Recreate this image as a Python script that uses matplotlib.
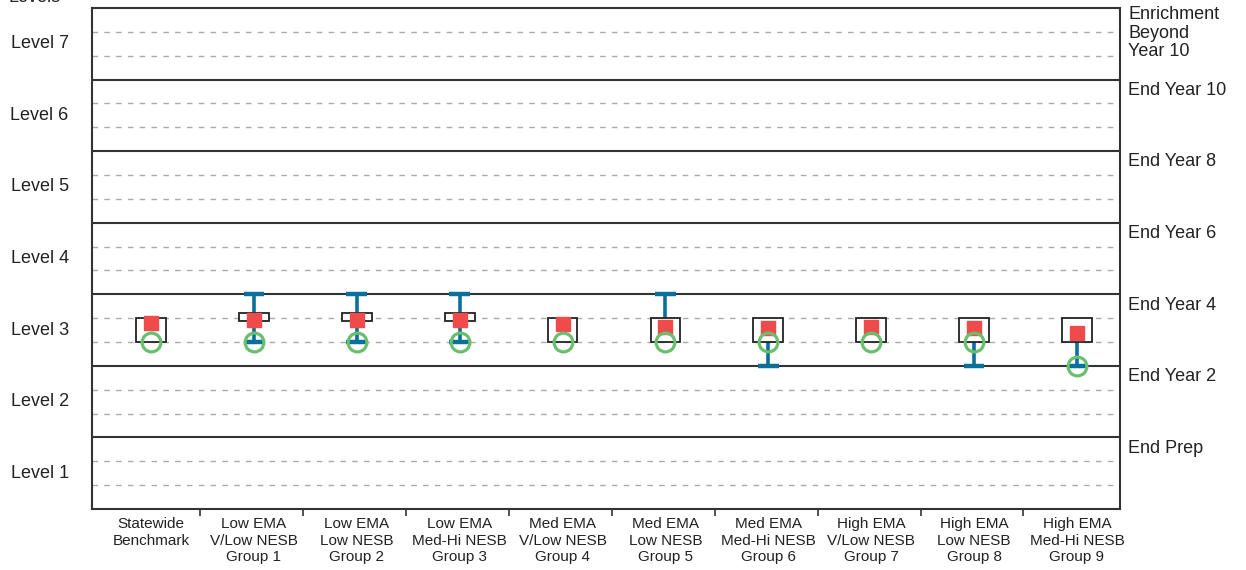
import numpy as np
import matplotlib.pyplot as plt

plt.rcParams['font.family'] = ['Liberation Sans', 'DejaVu Sans']

# categories (bottom axis)
groups = [
    "Statewide\nBenchmark",
    "Low EMA\nV/Low NESB\nGroup 1",
    "Low EMA\nLow NESB\nGroup 2",
    "Low EMA\nMed-Hi NESB\nGroup 3",
    "Med EMA\nV/Low NESB\nGroup 4",
    "Med EMA\nLow NESB\nGroup 5",
    "Med EMA\nMed-Hi NESB\nGroup 6",
    "High EMA\nV/Low NESB\nGroup 7",
    "High EMA\nLow NESB\nGroup 8",
    "High EMA\nMed-Hi NESB\nGroup 9",
]

# values in level units (Level 1 spans 0-1, Level 2 spans 1-2, ...)
box_low = [2.333, 2.623, 2.623, 2.623, 2.333, 2.333, 2.333, 2.333, 2.333, 2.333]
box_high = [2.667, 2.735, 2.735, 2.735, 2.667, 2.667, 2.667, 2.667, 2.667, 2.667]
means = [2.595, 2.637, 2.637, 2.637, 2.588, 2.546, 2.532, 2.546, 2.532, 2.463]
medians = [2.333, 2.333, 2.333, 2.333, 2.333, 2.333, 2.333, 2.333, 2.333, 2.0]
whisk_low = [np.nan, 2.333, 2.333, 2.333, np.nan, np.nan, 2.0, np.nan, 2.0, 2.0]
whisk_high = [np.nan, 3.0, 3.0, 3.0, np.nan, 3.0, np.nan, np.nan, np.nan, np.nan]

level_labels = ["Level 1", "Level 2", "Level 3", "Level 4", "Level 5", "Level 6", "Level 7"]
stage_labels = ["End Prep", "End Year 2", "End Year 4", "End Year 6",
                "End Year 8", "End Year 10"]
top_label = "Enrichment\nBeyond\nYear 10"

blue = '#0b6f9a'
red = '#ef4b4b'
green = '#6abf6e'
line_col = '#333333'

fig = plt.figure(figsize=(12.46, 5.70), dpi=100)
ax = fig.add_axes([92/1246, 1 - 509/570, 1028/1246, 501/570])

n_levels = len(level_labels)
ax.set_ylim(0, n_levels)
ax.set_xlim(-0.573, len(groups) - 0.582)

# level bands: solid boundaries, dashed thirds
for k in range(1, n_levels):
    ax.axhline(k, color=line_col, lw=1.5, zorder=1)
for k in range(n_levels):
    for f in (1/3, 2/3):
        ax.axhline(k + f, color='#aaaaaa', lw=1.0, ls=(0, (4, 4.5)), zorder=1)

x = np.arange(len(groups))
bw = 0.29
cw = 0.2

for i in range(len(groups)):
    lo = whisk_low[i] if not np.isnan(whisk_low[i]) else box_low[i]
    hi = whisk_high[i] if not np.isnan(whisk_high[i]) else box_high[i]
    if hi > lo:
        ax.plot([x[i], x[i]], [lo, hi], color=blue, lw=2.6, zorder=2,
                solid_capstyle='butt')
    for w in (whisk_low[i], whisk_high[i]):
        if not np.isnan(w):
            ax.plot([x[i] - cw/2, x[i] + cw/2], [w, w], color=blue, lw=3.2,
                    zorder=2, solid_capstyle='butt')
    ax.add_patch(plt.Rectangle((x[i] - bw/2, box_low[i]), bw,
                               box_high[i] - box_low[i], facecolor='white',
                               edgecolor='#222222', lw=1.3, zorder=3))

ax.plot(x, means, ls='none', marker='s', ms=9.5, color=red, mec=red, zorder=4)
ax.plot(x, medians, ls='none', marker='o', ms=13.5, mfc='none', mec=green,
        mew=2.3, zorder=5)

# spines and ticks
for s in ax.spines.values():
    s.set_color(line_col)
    s.set_linewidth(1.5)
ax.set_yticks([])
ax.set_xticks(x)
ax.set_xticklabels(groups, fontsize=11, linespacing=1.2, color='#222222')
ax.tick_params(axis='x', which='major', length=0, pad=6)
ax.set_xticks(np.arange(len(groups) - 1) + 0.48, minor=True)
ax.tick_params(axis='x', which='minor', length=5, width=1.2, color=line_col)

trans = ax.get_yaxis_transform()
for k, lab in enumerate(level_labels):
    ax.text(-0.051, k + 0.5, lab, transform=trans, ha='center', va='center',
            fontsize=13, color='#222222')
for k, lab in enumerate(stage_labels):
    ax.text(1.0078, k + 1 - 0.15, lab, transform=trans, ha='left', va='center',
            fontsize=13, color='#222222')
ax.text(1.0078, n_levels - 0.35, top_label, transform=trans, ha='left',
        va='center', fontsize=13, linespacing=1.12, color='#222222')

fig.text(8/1246, 1 - 2/570, "Levels", ha='left', va='baseline', fontsize=13,
         color='#222222')

fig.savefig('out.png', dpi=100)
